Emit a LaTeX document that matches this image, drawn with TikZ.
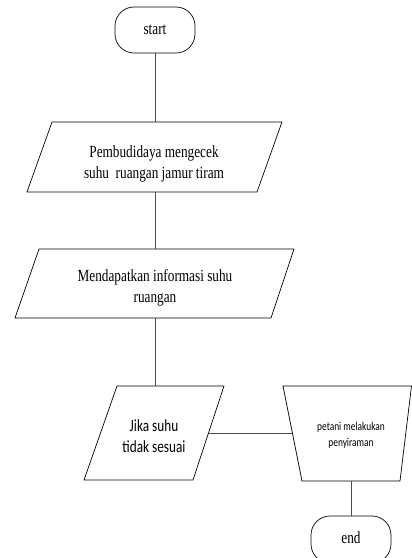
\documentclass[tikz,border=0pt]{standalone}
\usepackage{fontspec}
\setmainfont{Liberation Serif}
\newfontfamily\serifc[FakeStretch=0.78]{Liberation Serif}
\newfontfamily\calibc[FakeStretch=0.78]{Carlito}
\begin{document}
\begin{tikzpicture}[x=1pt,y=-1pt,
  shapeline/.style={draw=black,line width=0.7pt},
  conn/.style={draw=black!70,line width=0.7pt},
  sertext/.style={font=\serifc\fontsize{17}{21}\selectfont,align=center,inner sep=0pt},
  santext/.style={font=\calibc\fontsize{17}{21}\selectfont,align=center,inner sep=0pt},
  smalltext/.style={font=\calibc\fontsize{12}{16}\selectfont,align=center,inner sep=0pt}]
\path[use as bounding box] (0,0) rectangle (412,558);
\clip (0,0) rectangle (412,558);
% start
\draw[shapeline,rounded corners=19pt] (115,7) rectangle (195,53);
\node[sertext] (start) at (155,30) {start};
\coordinate (startb) at (155,53);
% parallelogram 1
\draw[shapeline] (52,122) -- (282,122) -- (257,192) -- (27,192) -- cycle;
\node[sertext] (p1) at (154,164) {Pembudidaya mengecek\\suhu\ \ ruangan jamur tiram};
\coordinate (p1t) at (155,122);
\coordinate (p1b) at (155,192);
% parallelogram 2
\draw[shapeline] (39,249) -- (294,249) -- (271,318) -- (15,318) -- cycle;
\node[sertext] (p2) at (155,288) {Mendapatkan informasi suhu\\ruangan};
\coordinate (p2t) at (155,249);
\coordinate (p2b) at (155,318);
% parallelogram 3
\draw[shapeline] (117,386) -- (224,386) -- (193,480) -- (84,480) -- cycle;
\node[santext] (p3) at (154,436) {Jika suhu\\tidak sesuai};
\coordinate (p3t) at (155,386);
\coordinate (p3r) at (208.5,433);
% manual operation
\draw[shapeline] (283,386) -- (411.5,386) -- (400,481) -- (302,481) -- cycle;
\node[smalltext] (m) at (351,435.5) {petani melakukan\\penyiraman};
\coordinate (ml) at (292.4,433);
\coordinate (mb) at (351,481);
% end
\draw[shapeline,rounded corners=19pt] (311,516) rectangle (391,563);
\node[sertext] (end) at (351,538) {end};
\coordinate (endt) at (351,516);
% connectors
\draw[conn] (startb) -- (p1t);
\draw[conn] (p1b) -- (p2t);
\draw[conn] (p2b) -- (p3t);
\draw[conn] (p3r) -- (ml);
\draw[conn] (mb) -- (endt);
\end{tikzpicture}
\end{document}
